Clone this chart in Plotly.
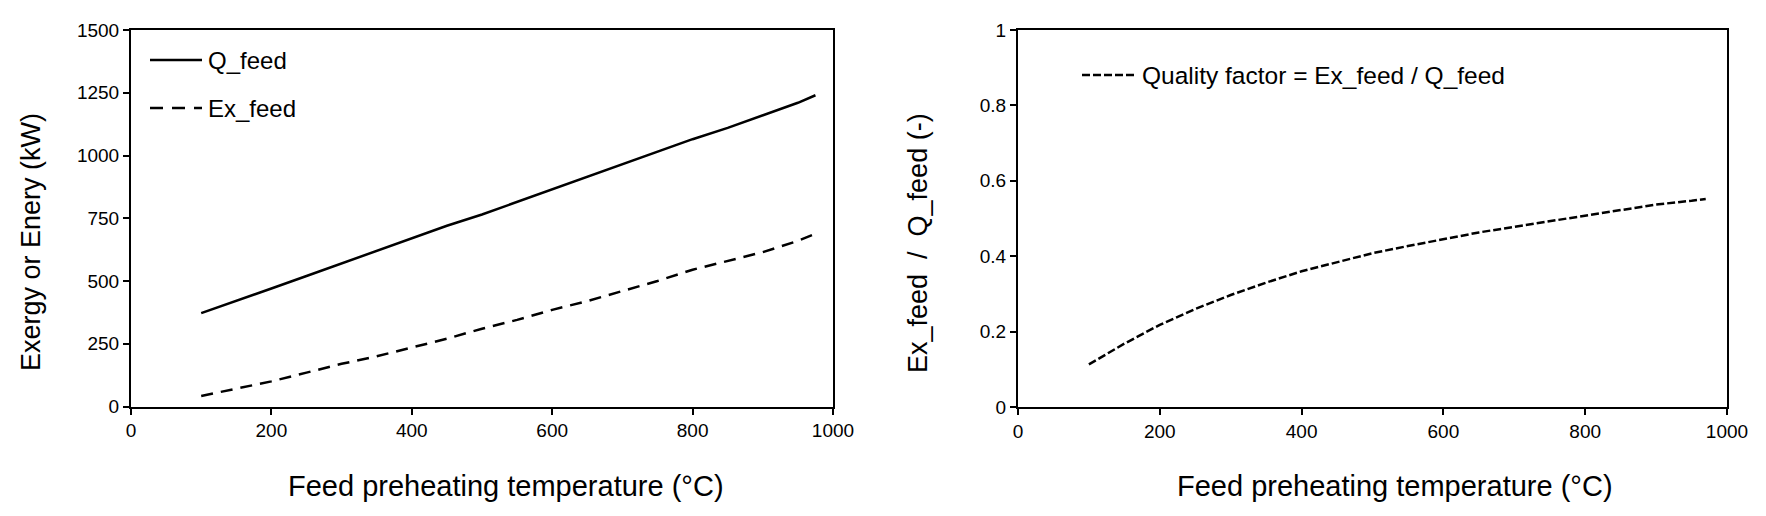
import plotly.graph_objects as go

# Data
temp = [100, 150, 200, 250, 300, 350, 400, 450, 500, 550, 600, 650, 700, 750, 800, 850, 900, 950, 975]
q_feed = [372, 420, 470, 520, 570, 620, 670, 720, 765, 815, 865, 915, 965, 1015, 1065, 1110, 1160, 1210, 1240]
ex_feed = [42, 70, 100, 135, 170, 200, 235, 270, 310, 345, 385, 420, 460, 500, 545, 580, 615, 660, 688]
temp_q = [100, 150, 200, 250, 300, 350, 400, 450, 500, 550, 600, 650, 700, 750, 800, 850, 900, 950, 970]
quality = [0.113, 0.168, 0.218, 0.260, 0.297, 0.330, 0.360, 0.385, 0.408, 0.427, 0.445, 0.463, 0.478, 0.493,
           0.508, 0.523, 0.537, 0.547, 0.552]

x_ticks = [0, 200, 400, 600, 800, 1000]
y1_ticks = [0, 250, 500, 750, 1000, 1250, 1500]
y2_ticks = [0, 0.2, 0.4, 0.6, 0.8, 1]
y2_labels = ["0", "0.2", "0.4", "0.6", "0.8", "1"]

FONT = "Liberation Sans, Arial, sans-serif"
W, H = 1750, 510  # slightly under the window so the page never scrolls/scales


def px(x):
    return x / W


def py(y):
    return 1 - y / H


fig = go.Figure()
fig.add_trace(go.Scatter(x=temp, y=q_feed, mode="lines", name="Q_feed",
                         line=dict(color="black", width=2.5), xaxis="x", yaxis="y"))
fig.add_trace(go.Scatter(x=temp, y=ex_feed, mode="lines", name="Ex_feed",
                         line=dict(color="black", width=2.5, dash="12px,8px"), xaxis="x", yaxis="y"))
fig.add_trace(go.Scatter(x=temp_q, y=quality, mode="lines", name="Quality factor = Ex_feed / Q_feed",
                         line=dict(color="black", width=2.5, dash="8px,3px"), xaxis="x2", yaxis="y2"))

ax_common = dict(showgrid=False, zeroline=False, showline=True, linecolor="black", linewidth=2,
                 mirror=True, ticks="outside", ticklen=6, tickwidth=2, tickcolor="black", automargin=False,
                 tickfont=dict(family=FONT, size=19, color="black"))

L = dict(x0=131, x1=833, y0=30, y1=406.5)
R = dict(x0=1018, x1=1727, y0=30, y1=407)

fig.update_layout(
    width=W, height=H, margin=dict(l=0, r=0, t=0, b=0),
    paper_bgcolor="white", plot_bgcolor="white", showlegend=False,
    font=dict(family=FONT, color="black"),
    xaxis=dict(domain=[px(L["x0"]), px(L["x1"])], range=[0, 1000], tickvals=x_ticks, anchor="y", **ax_common),
    yaxis=dict(domain=[py(L["y1"]), py(L["y0"])], range=[0, 1500], tickvals=y1_ticks, anchor="x", **ax_common),
    xaxis2=dict(domain=[px(R["x0"]), px(R["x1"])], range=[0, 1000], tickvals=x_ticks, anchor="y2", **ax_common),
    yaxis2=dict(domain=[py(R["y1"]), py(R["y0"])], range=[0, 1], tickvals=y2_ticks, ticktext=y2_labels,
                anchor="x2", **ax_common),
)

# axis titles
xt_font = dict(family=FONT, size=29, color="black")
yt_font = dict(family=FONT, size=27, color="black")
fig.add_annotation(text="Feed preheating temperature (°C)", x=px(506), y=py(486),
                   xref="paper", yref="paper", showarrow=False, font=xt_font, xanchor="center", yanchor="middle")
fig.add_annotation(text="Feed preheating temperature (°C)", x=px(1395), y=py(486),
                   xref="paper", yref="paper", showarrow=False, font=xt_font, xanchor="center", yanchor="middle")
fig.add_annotation(text="Exergy or Enery (kW)", x=px(31), y=py(242), textangle=-90,
                   xref="paper", yref="paper", showarrow=False, font=yt_font, xanchor="center", yanchor="middle")
fig.add_annotation(text="Ex_feed\u00a0\u00a0/\u00a0\u00a0Q_feed (-)", x=px(918), y=py(243), textangle=-90,
                   xref="paper", yref="paper", showarrow=False, font=yt_font, xanchor="center", yanchor="middle")

# manual legends
legend_items = [
    (150, 202, 60, dict(color="black", width=2.5), "Q_feed", 24),
    (150, 202, 108, dict(color="black", width=2.5, dash="13px,9px"), "Ex_feed", 24),
    (1082, 1136, 75, dict(color="black", width=2.5, dash="8px,3px"), "Quality factor = Ex_feed / Q_feed", 24.5),
]
for x0, x1, yc, ln, txt, fs in legend_items:
    fig.add_shape(type="line", xref="paper", yref="paper", x0=px(x0), x1=px(x1),
                  y0=py(yc), y1=py(yc), line=ln)
    fig.add_annotation(text=txt, x=px(x1 + 4), y=py(yc), xref="paper", yref="paper",
                       showarrow=False, font=dict(family=FONT, size=fs, color="black"),
                       xanchor="left", yanchor="middle")

fig.write_html("out.html")
